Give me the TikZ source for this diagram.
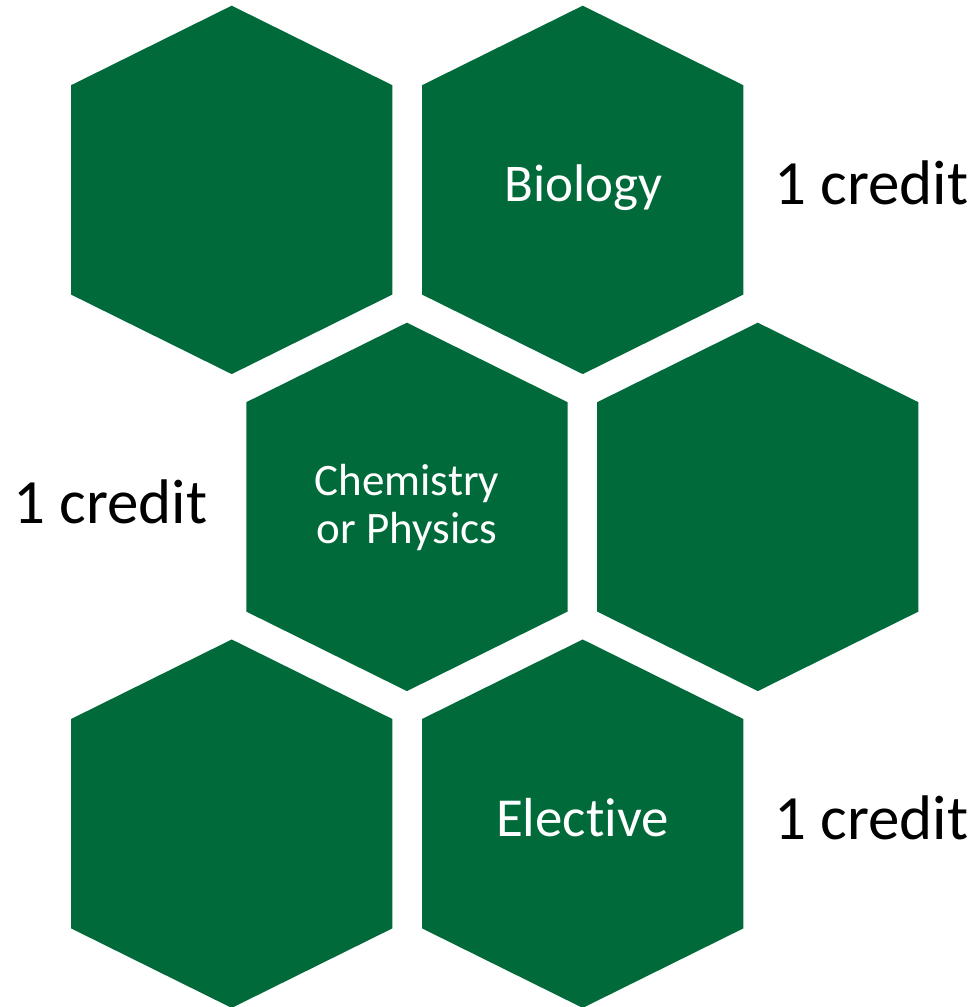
\documentclass[tikz,border=0pt]{standalone}
\usepackage{fontspec}
\setmainfont[Ligatures=NoCommon]{Carlito}
\definecolor{hexgreen}{HTML}{006A3A}
\tikzset{
  hexfill/.style={fill=hexgreen, draw=none},
  hextext/.style={text=white, inner sep=0pt, anchor=base, align=center},
  credittext/.style={text=black, inner sep=0pt, anchor=base west, font=\fontsize{63}{72}\selectfont}
}
\newcommand{\hexat}[2]{%
  \fill[hexfill] (#1,#2) ++(0,184.2) -- ++(160.6,-79.5) -- ++(0,-209.4) -- ++(-160.6,-79.5) -- ++(-160.6,79.5) -- ++(0,209.4) -- cycle;}
\begin{document}
\begin{tikzpicture}[x=1pt,y=1pt]
\useasboundingbox (0,0) rectangle (980,1007);
\hexat{231.7}{817.1}
\hexat{582.7}{817.1}
\hexat{406.9}{500.1}
\hexat{757.8}{500.1}
\hexat{231.7}{183.3}
\hexat{582.7}{183.3}
\node[hextext, font=\fontsize{53}{60}\selectfont] (bio) at (583.5,805.3) {Biology};
\node[hextext, font=\fontsize{45}{48.3}\selectfont] (chem) at (407,463) {Chemistry\\or Physics};
\node[hextext, font=\fontsize{55}{60}\selectfont] (elec) at (582.5,170.3) {Elective};
\node[credittext] (c1) at (774,802) {1 credit};
\node[credittext] (c2) at (13,483) {1 credit};
\node[credittext] (c3) at (774,167) {1 credit};
\end{tikzpicture}
\end{document}
